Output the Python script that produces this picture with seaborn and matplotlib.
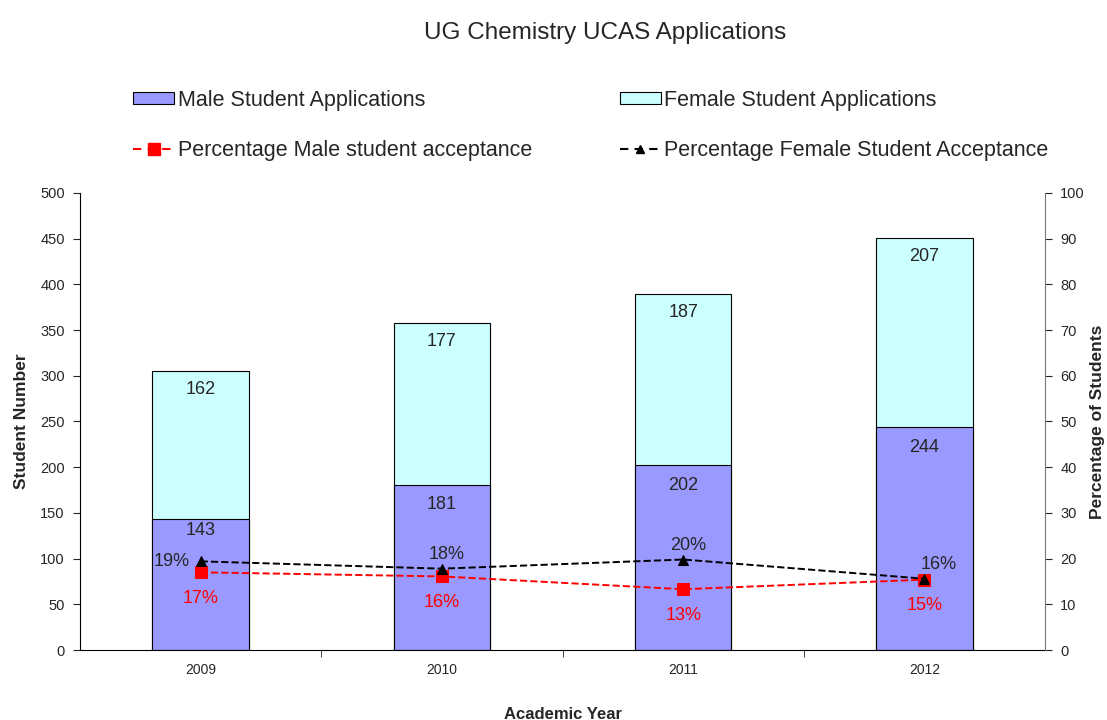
import pandas as pd
import seaborn as sns
import matplotlib.pyplot as plt
from matplotlib.patches import Patch
from matplotlib.lines import Line2D

years = ['2009', '2010', '2011', '2012']
male_apps = [143, 181, 202, 244]
female_apps = [162, 177, 187, 207]
male_pct = [17.0, 16.1, 13.3, 15.4]
female_pct = [19.4, 17.8, 19.8, 15.6]
male_pct_labels = ['17%', '16%', '13%', '15%']
female_pct_labels = ['19%', '18%', '20%', '16%']

df = pd.DataFrame({'Year': years, 'Male': male_apps, 'Female': female_apps})
df['Total'] = df['Male'] + df['Female']

sns.set_style('white')
plt.rcParams['font.family'] = ['Liberation Sans', 'DejaVu Sans']

male_col = '#9999FF'
female_col = '#CCFFFF'

fig = plt.figure(figsize=(11.07, 7.2), dpi=100)
ax = fig.add_axes([0.0723, 0.0972, 0.8717, 0.6348])

# stacked bars: total first (female colour), male drawn over the bottom part
sns.barplot(data=df, x='Year', y='Total', color=female_col, edgecolor='black',
            linewidth=0.8, width=0.4, saturation=1, ax=ax)
sns.barplot(data=df, x='Year', y='Male', color=male_col, edgecolor='black',
            linewidth=0.8, width=0.4, saturation=1, ax=ax)

for i in range(len(years)):
    off = 12 if i == 0 else 22
    ax.text(i, male_apps[i] - off, str(male_apps[i]), ha='center', va='center', fontsize=13)
    ax.text(i, male_apps[i] + female_apps[i] - 20, str(female_apps[i]),
            ha='center', va='center', fontsize=13)

ax.set_xlim(-0.5, 3.5)
ax.set_ylim(0, 500)
ax.set_yticks(range(0, 501, 50))
ax.set_xticks(range(4))
ax.set_xticks([0.5, 1.5, 2.5], minor=True)
ax.tick_params(axis='x', which='major', length=0, labelsize=10, pad=9)
ax.tick_params(axis='x', which='minor', length=5, direction='out', bottom=True)
ax.tick_params(axis='y', length=5, direction='out', left=True, labelsize=10.5, pad=6)
ax.set_xlabel('Academic Year', fontsize=12, fontweight='bold', labelpad=22)
ax.set_ylabel('Student Number', fontsize=12.5, fontweight='bold', labelpad=8)
ax.spines['top'].set_visible(False)
ax.spines['left'].set_color('black')
ax.spines['bottom'].set_color('black')
ax.spines['right'].set_visible(False)

ax2 = ax.twinx()
idx = list(range(4))
sns.lineplot(x=idx, y=male_pct, ax=ax2, color='red', linestyle='--', linewidth=1.4,
             marker='s', markersize=8, markeredgecolor='red', dashes=(4, 3))
sns.lineplot(x=idx, y=female_pct, ax=ax2, color='black', linestyle='--', linewidth=1.4,
             marker='^', markersize=7, markeredgecolor='black', dashes=(4, 3))
ax2.set_ylim(0, 100)
ax2.set_yticks(range(0, 101, 10))
ax2.tick_params(axis='y', length=5, direction='out', right=True, labelsize=10.5, pad=6)
ax2.set_ylabel('Percentage of Students', fontsize=12.5, fontweight='bold', labelpad=4)
ax2.spines['top'].set_visible(False)
ax2.spines['left'].set_visible(False)
ax2.spines['bottom'].set_visible(False)
ax2.spines['right'].set_color('#777777')

for i in idx:
    ax2.text(i, male_pct[i] - 5.7, male_pct_labels[i], color='red', ha='center',
             va='center', fontsize=13)
    if i == 0:
        ax2.text(i - 0.12, female_pct[i], female_pct_labels[i], ha='center',
                 va='center', fontsize=13)
    else:
        dx = 0.06 if i == 3 else 0.02
        ax2.text(i + dx, female_pct[i] + 3.1, female_pct_labels[i], ha='center',
                 va='center', fontsize=13)

fig.suptitle('UG Chemistry UCAS Applications', fontsize=17.5, x=0.547, y=0.97)

handles = [
    Patch(facecolor=male_col, edgecolor='black', linewidth=0.8, label='Male Student Applications'),
    Line2D([], [], color='red', linestyle='--', dashes=(4, 3), marker='s', markersize=8,
           label='Percentage Male student acceptance'),
    Patch(facecolor=female_col, edgecolor='black', linewidth=0.8, label='Female Student Applications'),
    Line2D([], [], color='black', linestyle='--', dashes=(4, 3), marker='^', markersize=6,
           label='Percentage Female Student Acceptance'),
]
fig.legend(handles=handles, ncol=2, loc='upper left', bbox_to_anchor=(0.103, 0.902),
           frameon=False, fontsize=15.5, handlelength=1.9, handleheight=0.5,
           handletextpad=0.15, columnspacing=4.1, labelspacing=1.35)

fig.savefig('out.png', dpi=100)
